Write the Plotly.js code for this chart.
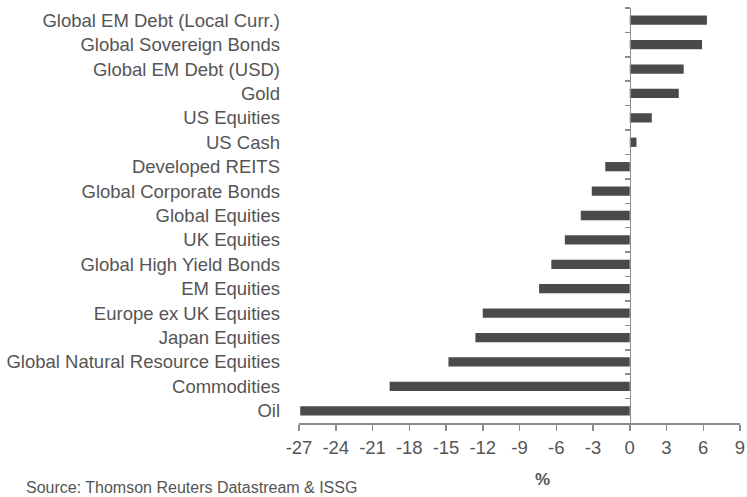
<!DOCTYPE html>
<html>
<head>
<meta charset="utf-8">
<script src="https://cdn.plot.ly/plotly-3.0.1.min.js"></script>
<style>html,body{margin:0;padding:0;background:#fff;}#chart{width:747px;height:497px;}</style>
</head>
<body>
<div id="chart"></div>
<script>
const categories = [
  "Global EM Debt (Local Curr.)",
  "Global Sovereign Bonds",
  "Global EM Debt (USD)",
  "Gold",
  "US Equities",
  "US Cash",
  "Developed REITS",
  "Global Corporate Bonds",
  "Global Equities",
  "UK Equities",
  "Global High Yield Bonds",
  "EM Equities",
  "Europe ex UK Equities",
  "Japan Equities",
  "Global Natural Resource Equities",
  "Commodities",
  "Oil"
];
const returns = [6.3, 5.9, 4.4, 4.0, 1.8, 0.55, -2.0, -3.1, -4.0, -5.3, -6.4, -7.4, -12.0, -12.6, -14.8, -19.6, -26.9];
const xTicks = [-27, -24, -21, -18, -15, -12, -9, -6, -3, 0, 3, 6, 9];
const xRange = [-27, 9];
const sourceText = "Source: Thomson Reuters Datastream & ISSG";
const unitLabel = "%";

const font = {family: "Liberation Sans, Arial, sans-serif", size: 18.5, color: "#555555"};
const axisGray = "#8c8c8c";
const zeroPos = (0 - xRange[0]) / (xRange[1] - xRange[0]);
const yRange = [categories.length - 0.5, -0.5];

const traces = [
  {
    type: "bar",
    orientation: "h",
    x: returns,
    y: categories,
    marker: {color: "#4a4a4a", line: {width: 0}},
    hoverinfo: "x+y"
  },
  {
    type: "scatter",
    mode: "markers",
    x: returns,
    y: categories,
    yaxis: "y2",
    marker: {opacity: 0},
    hoverinfo: "skip",
    showlegend: false
  }
];

const layout = {
  width: 747,
  height: 497,
  margin: {l: 299, r: 7, t: 8, b: 74},
  paper_bgcolor: "#ffffff",
  plot_bgcolor: "#ffffff",
  showlegend: false,
  bargap: 0.62,
  font: font,
  xaxis: {
    range: xRange,
    tickvals: xTicks,
    ticktext: xTicks.map(String),
    showgrid: false,
    zeroline: false,
    showline: true,
    linecolor: axisGray,
    linewidth: 1.5,
    ticks: "outside",
    ticklen: 6,
    tickwidth: 1.5,
    tickcolor: axisGray,
    tickfont: font,
    ticklabelstandoff: 1,
    fixedrange: true
  },
  yaxis: {
    type: "category",
    categoryorder: "array",
    categoryarray: categories,
    range: yRange,
    showgrid: false,
    zeroline: false,
    showline: false,
    ticks: "",
    tickfont: font,
    ticklabelstandoff: 18,
    fixedrange: true
  },
  yaxis2: {
    type: "category",
    categoryorder: "array",
    categoryarray: categories,
    range: yRange,
    overlaying: "y",
    anchor: "free",
    position: zeroPos,
    side: "left",
    showgrid: false,
    zeroline: false,
    showline: true,
    linecolor: axisGray,
    linewidth: 1.5,
    ticks: "outside",
    tickson: "boundaries",
    ticklen: 5,
    tickwidth: 1.5,
    tickcolor: axisGray,
    showticklabels: false,
    fixedrange: true
  },
  annotations: [
    {
      text: "<b>" + unitLabel + "</b>",
      xref: "paper", yref: "paper",
      x: 0.5525, y: -0.108,
      xanchor: "center", yanchor: "top",
      showarrow: false,
      font: {family: font.family, size: 17, color: "#555555"}
    },
    {
      text: sourceText,
      xref: "paper", xanchor: "left", x: -0.624,
      yref: "paper", yanchor: "bottom", y: -0.18,
      showarrow: false,
      font: {family: font.family, size: 16, color: "#555555"}
    }
  ]
};

Plotly.newPlot("chart", traces, layout, {displayModeBar: false, staticPlot: true});
</script>
</body>
</html>
